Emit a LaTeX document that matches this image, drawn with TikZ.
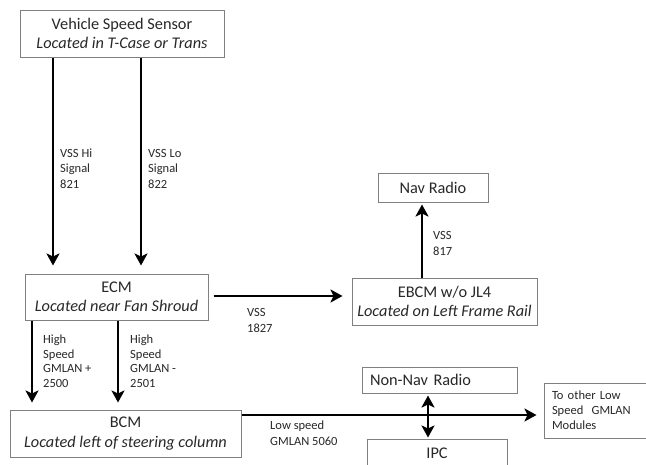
\documentclass[tikz,border=0pt]{standalone}
\usepackage{fontspec}
\setmainfont{Carlito}
\usetikzlibrary{arrows.meta}
\definecolor{boxgray}{RGB}{128,128,128}
\definecolor{textdark}{RGB}{40,40,40}
\begin{document}
\begin{tikzpicture}[x=1pt,y=-1pt,
  box/.style={draw=boxgray,line width=1pt,fill=white,inner sep=0pt,align=center,text=textdark,font=\fontsize{16.3}{19.5}\selectfont},
  smallbox/.style={draw=boxgray,line width=1pt,fill=white,inner ysep=0pt,inner xsep=8pt,align=left,text=textdark,font=\fontsize{12.5}{15}\selectfont},
  lbl/.style={anchor=base west,inner sep=0pt,align=left,text=textdark,font=\fontsize{12.5}{15.5}\selectfont},
  arr/.style={line width=2.6pt,-{Stealth[length=12pt,width=13pt,inset=3pt]}},
  darr/.style={line width=2.6pt,{Stealth[length=12pt,width=13pt,inset=3pt]}-{Stealth[length=12pt,width=13pt,inset=3pt]}},
]
\useasboundingbox (0,0) rectangle (646,464);
\fill[white] (0,0) rectangle (646,464);
\clip (0,0) rectangle (646,464);

\node[box,minimum width=204pt,minimum height=47pt] (vss) at (122,33.5)
  {Vehicle Speed Sensor\\\textit{Located in T-Case or Trans}};
\node[box,minimum width=183pt,minimum height=46pt] (ecm) at (116.5,297)
  {ECM\\\textit{Located near Fan Shroud}};
\node[box,minimum width=185pt,minimum height=47pt] (ebcm) at (444.5,301.5)
  {EBCM w/o JL4\\\textit{Located on Left Frame Rail}};
\node[box,minimum width=110pt,minimum height=29pt] (nav) at (433,187.5) {Nav Radio};
\node[box,minimum width=231pt,minimum height=47pt] (bcm) at (125.5,433.5)
  {BCM\\\textit{Located left of steering column}};
\node[box,align=left,inner xsep=8pt,text width=139pt,minimum height=26pt] (nonnav) at (439.5,380) {Non-Nav Radio};
\node[box,minimum width=140pt,minimum height=28pt] (ipc) at (437,453) {IPC};
\node[smallbox,text width=100pt,minimum height=55pt] (other) at (602,410.5)
  {To other Low\\Speed\ \ GMLAN\\Modules};

\draw[arr] ([xshift=-69pt]vss.south) -- ([xshift=-63.5pt,yshift=8pt]ecm.north);
\draw[arr] ([xshift=19pt]vss.south) -- ([xshift=24.5pt,yshift=8pt]ecm.north);
\draw[arr] ([xshift=5pt,yshift=1pt]ecm.east) -- ([xshift=-9pt,yshift=5.5pt]ebcm.west);
\draw[arr] ([xshift=-22.5pt]ebcm.north) -- ([xshift=-11pt,yshift=-2pt]nav.south);
\draw[arr] ([xshift=-84.5pt]ecm.south) -- ([xshift=-93.5pt,yshift=7pt]bcm.north);
\draw[arr] ([xshift=1.5pt]ecm.south) -- ([xshift=-7.5pt,yshift=7pt]bcm.north);
\draw[arr] ([yshift=18.5pt]bcm.east) -- ([xshift=-7pt,yshift=-4.5pt]other.west);
\draw[darr] ([xshift=-11.5pt,yshift=-2pt]nonnav.south) -- ([xshift=-9pt,yshift=1pt]ipc.north);

\node[lbl] (l1) at (60,188) {VSS Hi\\Signal\\821};
\node[lbl] (l2) at (148,188) {VSS Lo\\Signal\\822};
\node[lbl] (l3) at (433,255) {VSS\\817};
\node[lbl] (l4) at (247,332) {VSS\\1827};
\node[lbl,font=\fontsize{12.5}{14.5}\selectfont] (l5) at (43,387) {High\\Speed\\GMLAN +\\2500};
\node[lbl,font=\fontsize{12.5}{14.5}\selectfont] (l6) at (130,387) {High\\Speed\\GMLAN -\\2501};
\node[lbl] (l7) at (270,445) {Low speed\\GMLAN 5060};
\end{tikzpicture}
\end{document}
